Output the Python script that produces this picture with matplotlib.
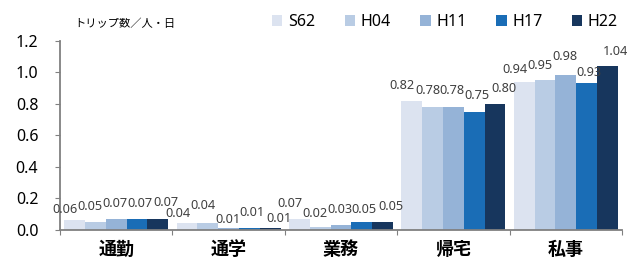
import numpy as np
import matplotlib.pyplot as plt

plt.rcParams['font.family'] = ['Noto Sans', 'Noto Sans CJK JP', 'DejaVu Sans']

categories = ['通勤', '通学', '業務', '帰宅', '私事']
series = ['S62', 'H04', 'H11', 'H17', 'H22']
values = [
    [0.06, 0.04, 0.07, 0.82, 0.94],  # S62
    [0.05, 0.04, 0.02, 0.78, 0.95],  # H04
    [0.07, 0.01, 0.03, 0.78, 0.98],  # H11
    [0.07, 0.01, 0.05, 0.75, 0.93],  # H17
    [0.07, 0.01, 0.05, 0.80, 1.04],  # H22
]
colors = ['#dce3f0', '#b9cce4', '#95b3d7', '#1a6db6', '#17365d']

# label offsets in pixels (Excel staggered the labels)
lab_dy = [
    [11, 10, 15, 15.5, 12],
    [15, 18, 13, 16, 15],
    [15, 9, 15, 16, 19],
    [15, 16, 12, 15.6, 11],
    [16, 10, 15, 15.4, 14],
]
lab_dx = [-9.5, -5, -1, 2.5, 8.5]

fig = plt.figure(figsize=(6.32, 2.64), dpi=100)
ax = fig.add_axes([60 / 632, 1 - 229.7 / 264, 562 / 632, 189 / 264])

x = np.arange(len(categories))
w = 0.185
for i, s in enumerate(series):
    pos = x + (i - 2) * w
    ax.bar(pos, values[i], w, color=colors[i], label=s, zorder=2)
    for j in range(len(categories)):
        ax.annotate('%.2f' % values[i][j], (pos[j], values[i][j]),
                    xytext=(lab_dx[i] * 0.72, lab_dy[i][j] * 0.72),
                    textcoords='offset points', ha='center', va='center',
                    fontsize=9.2, color='#404040')

ax.set_xlim(-0.5, 4.5)
ax.set_ylim(0, 1.2)
ax.set_yticks(np.arange(0, 1.21, 0.2))
ax.set_yticklabels(['%.1f' % v for v in np.arange(0, 1.21, 0.2)])
ax.set_xticks(np.arange(-0.5, 4.6, 1))
ax.set_xticklabels([])
ax.set_xticks(x, minor=True)
ax.set_xticklabels(categories, minor=True, fontsize=13, fontweight='bold')
ax.tick_params(axis='x', which='minor', length=0, pad=8)
ax.tick_params(axis='x', which='major', length=3.6, color='#808080')
ax.tick_params(axis='y', length=3.6, color='#808080', pad=12, labelsize=11.5)
for sp in ['top', 'right']:
    ax.spines[sp].set_visible(False)
for sp in ['left', 'bottom']:
    ax.spines[sp].set_color('#808080')
    ax.spines[sp].set_linewidth(1.3)

fig.text(74 / 632, 1 - 24 / 264, 'トリップ数／人・日', fontsize=8.1, va='center',
         family=['Noto Sans CJK JP'])

fig.legend(loc='center', bbox_to_anchor=(445 / 632, 1 - 22 / 264), ncol=5,
           frameon=False, fontsize=11.5, handlelength=0.65, handleheight=0.65,
           handletextpad=0.35, columnspacing=1.85, borderaxespad=0)

fig.savefig('out.png')
